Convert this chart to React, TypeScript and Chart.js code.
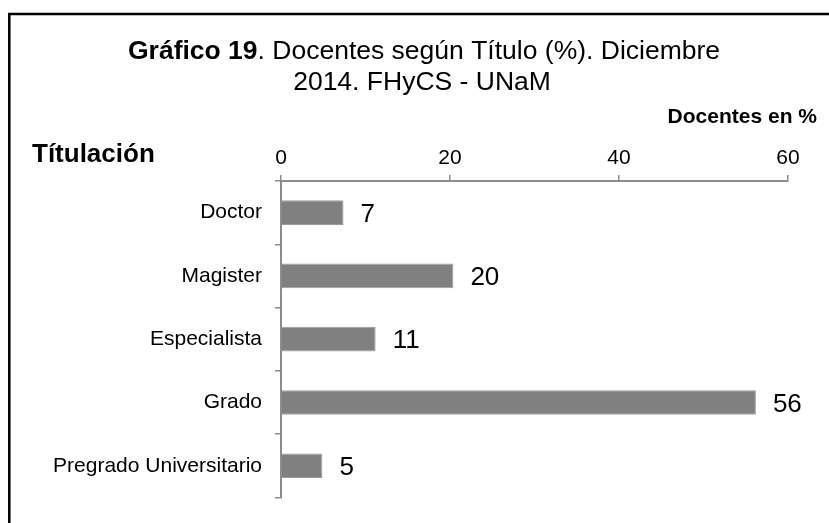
import React, { useEffect, useRef } from "react";
import { Chart, registerables } from "chart.js";

Chart.register(...registerables);

const categories: string[] = ["Doctor", "Magister", "Especialista", "Grado", "Pregrado Universitario"];
const values: number[] = [7.4, 20.4, 11.2, 56.2, 4.9];
const valueLabels: string[] = ["7", "20", "11", "56", "5"];
const xTicks: number[] = [0, 20, 40, 60];
const titleBold = "Gráfico 19";
const titleRest = ". Docentes según Título (%). Diciembre";
const titleLine2 = "2014. FHyCS - UNaM";
const yAxisTitle = "Títulación";
const xAxisTitle = "Docentes en %";

const FONT = "'Liberation Sans', Arial, sans-serif";
const W = 829;
const H = 523;

export default function App() {
  const ref = useRef<HTMLCanvasElement | null>(null);

  useEffect(() => {
    if (!ref.current) return;
    const overlay = {
      id: "overlay",
      afterDraw(chart: any) {
        const ctx = chart.ctx as CanvasRenderingContext2D;
        ctx.save();
        // frame
        ctx.strokeStyle = "#000";
        ctx.lineWidth = 2.5;
        ctx.strokeRect(9.3, 14, 900, 700);
        ctx.fillStyle = "#000";
        // title line 1 (mixed bold + normal)
        ctx.textBaseline = "alphabetic";
        ctx.textAlign = "left";
        const tSize = 26.5;
        ctx.font = `bold ${tSize}px ${FONT}`;
        const wb = ctx.measureText(titleBold).width;
        ctx.font = `${tSize}px ${FONT}`;
        const wr = ctx.measureText(titleRest).width;
        const cx = 424;
        const x0 = cx - (wb + wr) / 2;
        ctx.font = `bold ${tSize}px ${FONT}`;
        ctx.fillText(titleBold, x0, 58.5);
        ctx.font = `${tSize}px ${FONT}`;
        ctx.fillText(titleRest, x0 + wb, 58.5);
        ctx.textAlign = "center";
        ctx.fillText(titleLine2, 422, 90);
        // axis titles
        ctx.font = `bold 26px ${FONT}`;
        ctx.textAlign = "left";
        ctx.fillText(yAxisTitle, 32, 162);
        ctx.font = `bold 21px ${FONT}`;
        ctx.textAlign = "right";
        ctx.fillText(xAxisTitle, 817, 123);
        // data labels
        const meta = chart.getDatasetMeta(0);
        ctx.font = `26px ${FONT}`;
        ctx.textAlign = "left";
        ctx.textBaseline = "middle";
        meta.data.forEach((el: any, i: number) => {
          ctx.fillText(valueLabels[i], el.x + 17, el.y + 2);
        });
        ctx.restore();
      },
    };

    const chart = new Chart(ref.current, {
      type: "bar",
      data: {
        labels: categories,
        datasets: [
          {
            data: values,
            backgroundColor: "#808080",
            borderColor: "#9c9c9c",
            borderWidth: 1,
            barPercentage: 0.39,
            categoryPercentage: 1,
          },
        ],
      },
      options: {
        indexAxis: "y",
        responsive: false,
        animation: false,
        layout: { padding: { left: 0, top: 0, right: 41, bottom: 19 } },
        plugins: {
          legend: { display: false },
          title: { display: false },
          tooltip: { enabled: false },
        },
        scales: {
          x: {
            position: "top",
            min: 0,
            max: 60,
            afterFit: (s: any) => {
              s.height = 181;
            },
            afterBuildTicks: (s: any) => {
              s.ticks = xTicks.map((v) => ({ value: v }));
            },
            ticks: {
              color: "#000",
              font: { family: FONT, size: 21 },
              padding: 4,
              maxRotation: 0,
            },
            grid: {
              display: true,
              drawOnChartArea: false,
              drawTicks: true,
              tickLength: 6,
              color: "#8c8c8c",
              lineWidth: 1.5,
            },
            border: { display: true, color: "#8c8c8c", width: 2 },
          },
          y: {
            afterFit: (s: any) => {
              s.width = 281;
            },
            ticks: {
              color: "#000",
              font: { family: FONT, size: 21 },
              padding: 13,
            },
            grid: {
              display: true,
              drawOnChartArea: false,
              drawTicks: true,
              tickLength: 6,
              offset: true,
              color: "#8c8c8c",
              lineWidth: 1.5,
            },
            border: { display: true, color: "#8c8c8c", width: 2 },
          },
        },
      },
      plugins: [overlay],
    });
    return () => chart.destroy();
  }, []);

  return (
    <div style={{ position: "fixed", left: 0, top: 0, width: W, height: H, background: "#fff" }}>
      <canvas ref={ref} width={W} height={H} style={{ width: W, height: H, display: "block" }} />
    </div>
  );
}
